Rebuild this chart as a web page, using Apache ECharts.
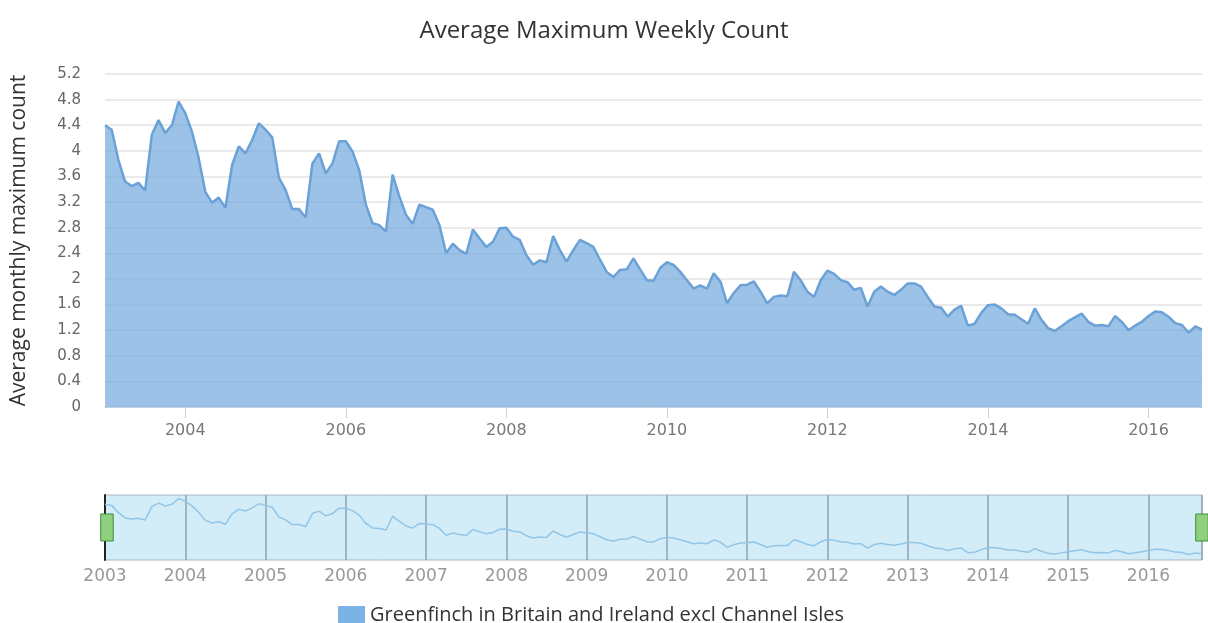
<!DOCTYPE html>
<html>
<head>
<meta charset="utf-8">
<title>Average Maximum Weekly Count</title>
<script src="https://cdn.jsdelivr.net/npm/echarts@6.0.0/dist/echarts.min.js"></script>
<style>
  html, body { margin: 0; padding: 0; background: #fff; }
  #chart { width: 1208px; height: 623px; }
</style>
</head>
<body>
<div id="chart"></div>
<script>
// data: one value per month, Jan 2003 .. Sep 2016
const firstYear = 2003;
const seriesName = "Greenfinch in Britain and Ireland excl Channel Isles";
const monthlyMax = [
  4.40, 4.33, 3.86, 3.52, 3.45, 3.50, 3.38, 4.25, 4.48, 4.28, 4.40, 4.77,
  4.59, 4.30, 3.89, 3.36, 3.19, 3.27, 3.11, 3.78, 4.07, 3.96, 4.17, 4.43,
  4.33, 4.21, 3.58, 3.39, 3.09, 3.09, 2.96, 3.80, 3.96, 3.65, 3.80, 4.15,
  4.15, 3.99, 3.70, 3.16, 2.87, 2.84, 2.74, 3.63, 3.29, 3.00, 2.86, 3.16,
  3.12, 3.08, 2.84, 2.40, 2.55, 2.45, 2.39, 2.77, 2.63, 2.50, 2.58, 2.79,
  2.80, 2.66, 2.61, 2.37, 2.22, 2.29, 2.26, 2.67, 2.45, 2.27, 2.45, 2.61,
  2.56, 2.50, 2.30, 2.11, 2.03, 2.14, 2.15, 2.32, 2.15, 1.98, 1.97, 2.17,
  2.26, 2.22, 2.11, 1.98, 1.85, 1.90, 1.85, 2.09, 1.96, 1.62, 1.78, 1.90,
  1.91, 1.96, 1.80, 1.62, 1.72, 1.74, 1.73, 2.11, 1.98, 1.80, 1.72, 1.98,
  2.13, 2.08, 1.98, 1.95, 1.83, 1.86, 1.57, 1.80, 1.88, 1.80, 1.75, 1.83,
  1.93, 1.93, 1.88, 1.72, 1.57, 1.55, 1.41, 1.52, 1.58, 1.27, 1.30, 1.47,
  1.59, 1.60, 1.54, 1.45, 1.44, 1.37, 1.30, 1.54, 1.36, 1.23, 1.19, 1.26,
  1.34, 1.40, 1.46, 1.33, 1.27, 1.28, 1.26, 1.42, 1.33, 1.20, 1.27, 1.33,
  1.42, 1.49, 1.48, 1.41, 1.31, 1.28, 1.16, 1.26, 1.21
];
// tick labels
const mainYearTicks = [2004, 2006, 2008, 2010, 2012, 2014, 2016];
const navYearTicks = [2003, 2004, 2005, 2006, 2007, 2008, 2009, 2010, 2011, 2012, 2013, 2014, 2015, 2016];

(function () {
  let myChart = echarts.init(document.getElementById("chart"));

  // month index -> decimal year, so both axes share one scale
  const points = monthlyMax.map((v, i) => [firstYear + i / 12, v]);
  const lastX = firstYear + (monthlyMax.length - 1) / 12;

  const labelFont = "DejaVu Sans";

  let option = {
    animation: false,
    title: {
      text: "Average Maximum Weekly Count",
      left: "center",
      top: 14,
      textStyle: {
        fontFamily: "Open Sans",
        fontSize: 24,
        fontWeight: "normal",
        color: "#333",
      },
    },
    legend: {
      data: [seriesName],
      top: 600,
      left: 333,
      icon: "rect",
      itemWidth: 27,
      itemHeight: 18,
      itemGap: 10,
      textStyle: { fontFamily: "Open Sans", fontSize: 20, color: "#333" },
    },
    // grid 0: main plot, grid 1: navigator strip
    grid: [
      { left: 105, right: 6, top: 74, bottom: 216, outerBoundsMode: "none" },
      {
        left: 105, right: 6, top: 495, bottom: 63, outerBoundsMode: "none",
        show: true,
        backgroundColor: "#d2ecf8",
        borderColor: "#aab8c4",
        borderWidth: 1,
      },
    ],
    xAxis: [
      {
        gridIndex: 0,
        type: "value",
        min: firstYear,
        max: lastX,
        splitLine: { show: false },
        axisLine: { lineStyle: { color: "#c4d2e0", width: 1 } },
        axisTick: {
          customValues: mainYearTicks,
          length: 11,
          lineStyle: { color: "#c4d2e0" },
        },
        axisLabel: {
          customValues: mainYearTicks,
          margin: 16,
          fontFamily: labelFont,
          fontSize: 16,
          color: "#777",
          formatter: (v) => String(v),
        },
      },
      {
        gridIndex: 1,
        type: "value",
        min: firstYear,
        max: lastX,
        interval: 1,
        splitLine: { show: true, lineStyle: { color: "#8fa3b2", width: 1.5 } },
        axisLine: { show: false },
        axisTick: { show: false },
        axisLabel: {
          margin: 8,
          fontFamily: labelFont,
          fontSize: 17,
          color: "#999",
          showMaxLabel: false,
          formatter: (v) => (navYearTicks.indexOf(v) >= 0 ? String(v) : ""),
        },
      },
    ],
    yAxis: [
      {
        gridIndex: 0,
        type: "value",
        min: 0,
        max: 5.2,
        interval: 0.4,
        name: "Average monthly maximum count",
        nameLocation: "middle",
        nameGap: 75,
        nameTextStyle: { fontFamily: "Open Sans", fontSize: 21, color: "#333" },
        axisLine: { show: false },
        axisTick: { show: false },
        axisLabel: {
          margin: 24,
          fontFamily: labelFont,
          fontSize: 15,
          color: "#666",
        },
        splitLine: { lineStyle: { color: "#e3e3e3", width: 1.5 } },
      },
      {
        gridIndex: 1,
        type: "value",
        min: 0.8,
        max: 5,
        axisLine: { show: true, lineStyle: { color: "#222", width: 2 } },
        axisTick: { show: false },
        axisLabel: { show: false },
        splitLine: { show: false },
      },
    ],
    dataZoom: [
      {
        type: "slider",
        xAxisIndex: 0,
        start: 0,
        end: 100,
        left: 105,
        right: 6,
        top: 495,
        height: 65,
        showDetail: false,
        showDataShadow: false,
        brushSelect: false,
        moveHandleSize: 0,
        backgroundColor: "rgba(0,0,0,0)",
        borderColor: "rgba(0,0,0,0)",
        fillerColor: "rgba(0,0,0,0)",
        handleIcon: "path://M0,0H12V26H0Z",
        handleSize: 27,
        handleStyle: { color: "#8fd07e", borderColor: "#3c8c3c", borderWidth: 1 },
        emphasis: { handleStyle: { color: "#8fd07e", borderColor: "#3c8c3c" } },
      },
    ],
    series: [
      {
        name: seriesName,
        type: "line",
        xAxisIndex: 0,
        yAxisIndex: 0,
        data: points,
        showSymbol: false,
        symbol: "none",
        lineStyle: { color: "#6aa2d8", width: 2.5 },
        itemStyle: { color: "#7cb2e6" },
        // area opacity set on the style itself (default would be 0.7)
        areaStyle: { color: "rgb(110,165,220)", opacity: 0.68 },
      },
      {
        name: "navigator",
        type: "line",
        xAxisIndex: 1,
        yAxisIndex: 1,
        data: points,
        showSymbol: false,
        symbol: "none",
        silent: true,
        lineStyle: { color: "#93c6e6", width: 1.5 },
      },
    ],
  };

  myChart.setOption(option);

  window.addEventListener("resize", function () {
    myChart.resize();
  });
})();
</script>
</body>
</html>
